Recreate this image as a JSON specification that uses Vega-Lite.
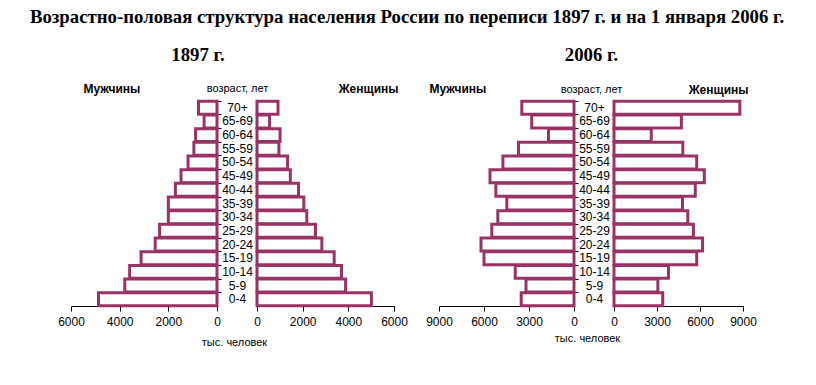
{
  "$schema": "https://vega.github.io/schema/vega-lite/v6.json",
  "padding": {"left": 29, "top": 8, "right": 5, "bottom": 5},
  "background": "white",
  "title": {"text": "Возрастно-половая структура населения России по переписи 1897 г. и на 1 января 2006 г.", "font": "Liberation Serif", "fontSize": 18.8, "fontWeight": "bold", "color": "black", "anchor": "middle", "offset": 19},
  "config": {
    "view": {"stroke": null},
    "font": "Liberation Sans",
    "axis": {"labelFont": "Liberation Sans", "labelFontSize": 12, "labelColor": "black", "domainColor": "black", "tickColor": "black", "grid": false, "titleFont": "Liberation Sans", "titleFontSize": 11, "titleFontWeight": "normal", "titleColor": "black"},
    "axisX": {"tickSize": 5, "labelPadding": 5, "format": "d", "labelFlush": false},
    "title": {"font": "Liberation Serif", "fontSize": 18.8, "fontWeight": "bold", "color": "black"}
  },
  "datasets": {
    "p1897": [
      {"age": "70+", "m": 760, "f": 920},
      {"age": "65-69", "m": 530, "f": 550},
      {"age": "60-64", "m": 880, "f": 1010},
      {"age": "55-59", "m": 950, "f": 960},
      {"age": "50-54", "m": 1190, "f": 1340},
      {"age": "45-49", "m": 1480, "f": 1460},
      {"age": "40-44", "m": 1710, "f": 1820},
      {"age": "35-39", "m": 2000, "f": 2050},
      {"age": "30-34", "m": 2000, "f": 2180},
      {"age": "25-29", "m": 2360, "f": 2560},
      {"age": "20-24", "m": 2540, "f": 2840},
      {"age": "15-19", "m": 3120, "f": 3380},
      {"age": "10-14", "m": 3590, "f": 3700},
      {"age": "5-9", "m": 3790, "f": 3880},
      {"age": "0-4", "m": 4870, "f": 5010}
    ],
    "p2006": [
      {"age": "70+", "m": 3480, "f": 8780},
      {"age": "65-69", "m": 2820, "f": 4700},
      {"age": "60-64", "m": 1700, "f": 2600},
      {"age": "55-59", "m": 3700, "f": 4800},
      {"age": "50-54", "m": 4740, "f": 5770},
      {"age": "45-49", "m": 5600, "f": 6300},
      {"age": "40-44", "m": 5210, "f": 5670},
      {"age": "35-39", "m": 4480, "f": 4780},
      {"age": "30-34", "m": 5080, "f": 5150},
      {"age": "25-29", "m": 5480, "f": 5540},
      {"age": "20-24", "m": 6200, "f": 6180},
      {"age": "15-19", "m": 6000, "f": 5770},
      {"age": "10-14", "m": 3920, "f": 3800},
      {"age": "5-9", "m": 3200, "f": 3060},
      {"age": "0-4", "m": 3520, "f": 3400}
    ]
  },
  "spacing": 40,
  "bounds": "flush",
  "hconcat": [
    {
      "width": 146, "height": 205,
      "data": {"name": "p1897"},
      "title": {"text": "1897 г.", "anchor": "middle", "frame": "group", "dx": 54, "offset": 17},
      "mark": {"type": "bar", "fill": "white", "stroke": "#993366", "strokeWidth": 3},
      "encoding": {
        "y": {"field": "age", "type": "nominal", "sort": ["70+", "65-69", "60-64", "55-59", "50-54", "45-49", "40-44", "35-39", "30-34", "25-29", "20-24", "15-19", "10-14", "5-9", "0-4"], "scale": {"paddingInner": 0.05, "paddingOuter": 0.02}, "axis": {"orient": "right", "labels": false, "ticks": true, "tickSize": 4, "bandPosition": 0, "title": "возраст, лет", "titleAngle": 0, "titleAlign": "center", "titleBaseline": "middle", "titleX": 20, "titleY": -13}},
        "x": {"field": "m", "type": "quantitative", "scale": {"domain": [0, 6000], "reverse": true}, "axis": {"values": [0, 2000, 4000, 6000], "title": "Мужчины", "titleFontWeight": "bold", "titleFontSize": 12, "titleAlign": "left", "titleBaseline": "middle", "titleX": 12, "titleY": -218}}
      }
    },
    {
      "width": 142, "height": 205,
      "data": {"name": "p1897"},
      "mark": {"type": "bar", "fill": "white", "stroke": "#993366", "strokeWidth": 3},
      "encoding": {
        "y": {"field": "age", "type": "nominal", "sort": ["70+", "65-69", "60-64", "55-59", "50-54", "45-49", "40-44", "35-39", "30-34", "25-29", "20-24", "15-19", "10-14", "5-9", "0-4"], "scale": {"paddingInner": 0.05, "paddingOuter": 0.02}, "axis": {"orient": "left", "labels": true, "ticks": false, "tickSize": 0, "labelAlign": "center", "labelPadding": 20, "title": "Женщины", "titleFontWeight": "bold", "titleFontSize": 12, "titleAngle": 0, "titleAlign": "right", "titleBaseline": "middle", "titleX": 141, "titleY": -13}},
        "x": {"field": "f", "type": "quantitative", "scale": {"domain": [0, 6000], "range": [0, 137]}, "axis": {"values": [0, 2000, 4000, 6000], "title": "тыс. человек", "titleAlign": "center", "titleBaseline": "middle", "titleX": -23, "titleY": 36}}
      }
    },
    {
      "width": 135, "height": 205,
      "data": {"name": "p2006"},
      "title": {"text": "2006 г.", "anchor": "middle", "frame": "group", "dx": 85, "offset": 17},
      "mark": {"type": "bar", "fill": "white", "stroke": "#993366", "strokeWidth": 3},
      "encoding": {
        "y": {"field": "age", "type": "nominal", "sort": ["70+", "65-69", "60-64", "55-59", "50-54", "45-49", "40-44", "35-39", "30-34", "25-29", "20-24", "15-19", "10-14", "5-9", "0-4"], "scale": {"paddingInner": 0.05, "paddingOuter": 0.02}, "axis": {"orient": "right", "labels": false, "ticks": true, "tickSize": 4, "bandPosition": 0, "title": "возраст, лет", "titleAngle": 0, "titleAlign": "center", "titleBaseline": "middle", "titleX": 17, "titleY": -12}},
        "x": {"field": "m", "type": "quantitative", "scale": {"domain": [0, 9000], "reverse": true}, "axis": {"values": [0, 3000, 6000, 9000], "title": "Мужчины", "titleFontWeight": "bold", "titleFontSize": 12, "titleAlign": "left", "titleBaseline": "middle", "titleX": -10, "titleY": -218}}
      }
    },
    {
      "width": 129, "height": 205,
      "data": {"name": "p2006"},
      "mark": {"type": "bar", "fill": "white", "stroke": "#993366", "strokeWidth": 3},
      "encoding": {
        "y": {"field": "age", "type": "nominal", "sort": ["70+", "65-69", "60-64", "55-59", "50-54", "45-49", "40-44", "35-39", "30-34", "25-29", "20-24", "15-19", "10-14", "5-9", "0-4"], "scale": {"paddingInner": 0.05, "paddingOuter": 0.02}, "axis": {"orient": "left", "labels": true, "ticks": false, "tickSize": 0, "labelAlign": "center", "labelPadding": 20, "title": "Женщины", "titleFontWeight": "bold", "titleFontSize": 12, "titleAngle": 0, "titleAlign": "right", "titleBaseline": "middle", "titleX": 134, "titleY": -12}},
        "x": {"field": "f", "type": "quantitative", "scale": {"domain": [0, 9000]}, "axis": {"values": [0, 3000, 6000, 9000], "title": "тыс. человек", "titleAlign": "center", "titleBaseline": "middle", "titleX": -27, "titleY": 32}}
      }
    }
  ]
}
